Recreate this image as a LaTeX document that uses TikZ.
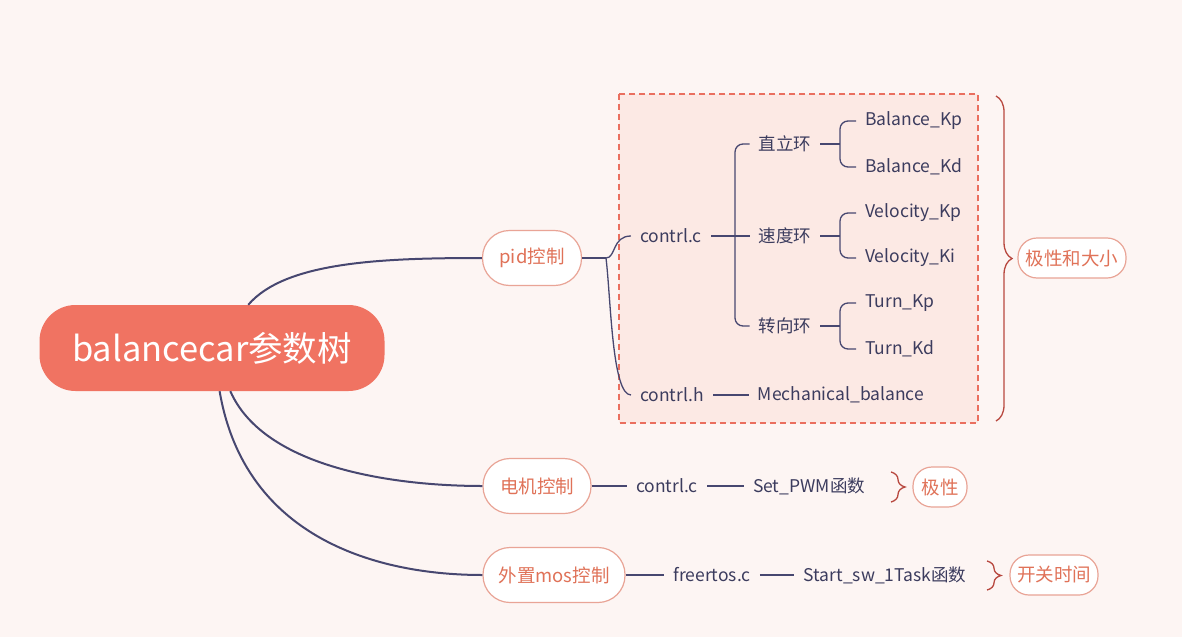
\documentclass[tikz,border=0pt]{standalone}
\usepackage{fontspec}
\setmainfont{Noto Sans CJK SC}
\usetikzlibrary{decorations.pathreplacing,positioning}
\definecolor{mapBg}{HTML}{FDF5F3}
\definecolor{mapRed}{HTML}{F07362}
\definecolor{mapEdge}{HTML}{E9A496}
\definecolor{mapText}{HTML}{3C3C5E}
\definecolor{mapLine}{HTML}{474770}
\definecolor{mapDash}{HTML}{EA6F5F}
\definecolor{mapPanel}{HTML}{FCE9E4}
\definecolor{mapBrace}{HTML}{B8483F}
\definecolor{mapTopicText}{HTML}{E07258}
\tikzset{
    mapRoot/.style={
        fill=mapRed,
        rounded corners=36pt,
        minimum width=345pt,
        minimum height=86pt,
        text=white,
        font=\fontsize{34.5}{40}\selectfont
    },
    mapTopic/.style={
        draw=mapEdge,
        line width=1.2pt,
        fill=white,
        rounded corners=27pt,
        minimum height=55pt,
        inner xsep=0pt,
        text=mapTopicText,
        font=\fontsize{18.5}{22}\selectfont
    },
    mapTag/.style={
        draw=mapEdge,
        line width=1.2pt,
        fill=white,
        rounded corners=19pt,
        minimum height=40pt,
        inner xsep=0pt,
        text=mapTopicText,
        font=\fontsize{18.5}{22}\selectfont
    },
    mapLeaf/.style={
        inner xsep=9pt,
        inner ysep=3pt,
        text=mapText,
        font=\fontsize{17.5}{20}\selectfont
    },
    mapCurve/.style={
        draw=mapLine,
        line width=2pt
    },
    mapLink/.style={
        draw=mapLine,
        line width=1.3pt,
        rounded corners=8pt
    },
    mapBraceLine/.style={
        draw=mapBrace,
        line width=1.3pt,
        decorate,
        decoration={brace,amplitude=#1}
    },
    mapPanelBox/.style={
        draw=mapDash,
        fill=mapPanel,
        line width=1.6pt,
        dash pattern=on 6pt off 4pt
    }
}
\begin{document}
\begin{tikzpicture}[x=1pt,y=-1pt]
        \fill[mapBg] (0,0) rectangle (1182,637);
        \useasboundingbox (0,0) rectangle (1182,637);
        \draw[mapPanelBox] (619,94) rectangle (978,423);

        % root and main topics
        \node[mapRoot] (root) at (212,348) {balancecar参数树};
        \node[mapTopic,minimum width=99pt] (pid) at (532,258) {pid控制};
        \node[mapTopic,minimum width=108pt] (motor) at (537,486) {电机控制};
        \node[mapTopic,minimum width=142pt] (mos) at (554,575) {外置mos控制};

        % pid branch
        \node[mapLeaf] (pidc) at (671,236) {contrl.c};
        \node[mapLeaf] (pidh) at (672,395) {contrl.h};
        \node[mapLeaf] (upright) at (785,144) {直立环};
        \node[mapLeaf] (speed) at (785,236) {速度环};
        \node[mapLeaf] (turn) at (785,326) {转向环};
        \node[mapLeaf,anchor=west] (balkp) at (856,121) {Balance\_Kp};
        \node[mapLeaf,anchor=west] (balkd) at (856,167) {Balance\_Kd};
        \node[mapLeaf,anchor=west] (velkp) at (856,213) {Velocity\_Kp};
        \node[mapLeaf,anchor=west] (velki) at (856,258) {Velocity\_Ki};
        \node[mapLeaf,anchor=west] (turnkp) at (856,303) {Turn\_Kp};
        \node[mapLeaf,anchor=west] (turnkd) at (856,349) {Turn\_Kd};
        \node[mapLeaf] (mech) at (841,395) {Mechanical\_balance};

        % motor and mos branches
        \node[mapLeaf] (motorc) at (667,486) {contrl.c};
        \node[mapLeaf] (pwm) at (809,486) {Set\_PWM函数};
        \node[mapLeaf] (rtos) at (712,575) {freertos.c};
        \node[mapLeaf] (task) at (885,575) {Start\_sw\_1Task函数};

        % tags
        \node[mapTag,minimum width=108pt] (sizeTag) at (1072,258) {极性和大小};
        \node[mapTag,minimum width=54pt] (polTag) at (940,487) {极性};
        \node[mapTag,minimum width=88pt] (timeTag) at (1054,575) {开关时间};

        \coordinate (pidfork) at (606,258);
        \coordinate (ccfork) at (735,236);
        \coordinate (upfork) at (840,144);
        \coordinate (speedfork) at (840,236);
        \coordinate (turnfork) at (840,326);

        \draw[mapCurve] (root.50) .. controls (285,262) and (380,258) .. (pid.west);
        \draw[mapCurve] (root.-67) .. controls (265,470) and (400,486) .. (motor.west);
        \draw[mapCurve] (root.-80) .. controls (245,540) and (380,575) .. (mos.west);

        \draw[mapLink] (pid.east) -- (pidfork);
        \draw[mapLink] (pidfork) .. controls (616,258) and (612,236) .. (pidc.west);
        \draw[mapLink] (pidfork) .. controls (611,300) and (612,395) .. (pidh.west);
        \draw[mapLink] (pidc.east) -- (speed.west);
        \draw[mapLink] (upright.west) -| (ccfork) |- (turn.west);
        \draw[mapLink] (upright.east) -- (upfork);
        \draw[mapLink] (balkp.west) -| (upfork) |- (balkd.west);
        \draw[mapLink] (speed.east) -- (speedfork);
        \draw[mapLink] (velkp.west) -| (speedfork) |- (velki.west);
        \draw[mapLink] (turn.east) -- (turnfork);
        \draw[mapLink] (turnkp.west) -| (turnfork) |- (turnkd.west);
        \draw[mapLink] (pidh.east) -- (mech.west);

        \draw[mapLink] (motor.east) -- (motorc.west);
        \draw[mapLink] (motorc.east) -- (pwm.west);
        \draw[mapLink] (mos.east) -- (rtos.west);
        \draw[mapLink] (rtos.east) -- (task.west);

        \draw[mapBraceLine=16pt] (996,96) -- (996,421);
        \draw[mapBraceLine=14pt] (891,472) -- (891,502);
        \draw[mapBraceLine=14pt] (987,561) -- (987,590);
    \end{tikzpicture}
\end{document}
